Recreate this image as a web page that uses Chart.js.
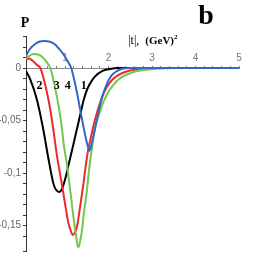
<!DOCTYPE html>
<html>
<head>
<meta charset="utf-8">
<script src="https://cdn.jsdelivr.net/npm/chart.js@4.4.1/dist/chart.umd.min.js"></script>
<style>
  html, body { margin: 0; padding: 0; background: #fff; }
</style>
</head>
<body>
<canvas id="chart" width="267" height="278"></canvas>
<script>
// |t| in (GeV)^2 and P for the four curves
const tBlack = [0.10, 0.20, 0.35, 0.50, 0.61, 0.73, 0.79, 0.87, 0.93, 1.00, 1.08, 1.16, 1.25, 1.34, 1.43, 1.51, 1.60, 1.69, 1.85, 2.03, 2.22, 2.5, 5];
const pBlack = [-0.003, -0.011, -0.030, -0.059, -0.085, -0.110, -0.116, -0.118, -0.115, -0.106, -0.092, -0.078, -0.062, -0.046, -0.030, -0.020, -0.013, -0.008, -0.003, -0.001, 0, 0, 0];

const tBlue = [0.10, 0.19, 0.31, 0.42, 0.51, 0.65, 0.77, 0.85, 0.95, 1.04, 1.14, 1.20, 1.27, 1.34, 1.41, 1.48, 1.53, 1.56, 1.60, 1.65, 1.69, 1.76, 1.84, 1.96, 2.07, 2.19, 2.31, 2.49, 5];
const pBlue = [0.0117, 0.0181, 0.0229, 0.0252, 0.0257, 0.0250, 0.0224, 0.0188, 0.0138, 0.0076, 0, -0.0095, -0.0229, -0.0381, -0.0533, -0.0676, -0.0757, -0.0788, -0.0743, -0.0648, -0.0571, -0.0438, -0.0295, -0.0152, -0.0071, -0.0029, -0.0008, 0, 0];

const tRed = [0.10, 0.16, 0.26, 0.35, 0.43, 0.49, 0.58, 0.66, 0.73, 0.81, 0.92, 1.00, 1.07, 1.14, 1.17, 1.22, 1.26, 1.30, 1.35, 1.42, 1.47, 1.53, 1.60, 1.65, 1.71, 1.78, 1.87, 1.96, 2.08, 2.22, 2.45, 2.68, 2.91, 5];
const pRed = [0.0076, 0.0090, 0.0067, 0.0029, 0, -0.0076, -0.0229, -0.0400, -0.0590, -0.0829, -0.1095, -0.1295, -0.1467, -0.1562, -0.1590, -0.1571, -0.1533, -0.1448, -0.1305, -0.1105, -0.0943, -0.0781, -0.0648, -0.0552, -0.0457, -0.0362, -0.0257, -0.0181, -0.0114, -0.0067, -0.0029, -0.0012, 0, 0];

const tGreen = [0.10, 0.19, 0.28, 0.38, 0.51, 0.58, 0.66, 0.72, 0.78, 0.85, 0.92, 0.97, 1.04, 1.09, 1.15, 1.20, 1.25, 1.27, 1.30, 1.32, 1.35, 1.39, 1.43, 1.50, 1.55, 1.61, 1.69, 1.76, 1.83, 1.89, 1.96, 2.03, 2.11, 2.19, 2.26, 2.35, 2.45, 2.63, 2.91, 3.18, 3.53, 5];
const pGreen = [0.0092, 0.0119, 0.0133, 0.0129, 0.0092, 0.0052, 0, -0.0095, -0.0210, -0.0362, -0.0552, -0.0733, -0.0914, -0.1076, -0.1276, -0.1448, -0.1590, -0.1657, -0.1705, -0.1695, -0.1638, -0.1543, -0.1390, -0.1171, -0.0971, -0.0781, -0.0571, -0.0467, -0.0381, -0.0314, -0.0257, -0.0205, -0.0162, -0.0124, -0.0100, -0.0076, -0.0057, -0.0031, -0.0014, -0.0005, 0, 0];

const curveNames = ['2', '3', '4', '1'];
const nameT = [0.41, 0.81, 1.06, 1.43];
const nameP = -0.0167;

function pts(ts, ps) {
  return ts.map((t, i) => ({ x: t, y: ps[i] }));
}

function line(ts, ps, color) {
  return {
    data: pts(ts, ps),
    borderColor: color,
    borderWidth: 2,
    pointRadius: 0,
    fill: false,
    cubicInterpolationMode: 'monotone'
  };
}

const textPlugin = {
  id: 'texts',
  afterDraw(chart) {
    const ctx = chart.ctx;
    const x = chart.scales.x, y = chart.scales.y;
    const area = chart.chartArea;
    ctx.save();
    ctx.fillStyle = '#000';
    ctx.textBaseline = 'middle';
    ctx.textAlign = 'center';
    ctx.font = 'bold 12px "Liberation Serif"';
    curveNames.forEach((n, i) => {
      ctx.fillText(n, x.getPixelForValue(nameT[i]), y.getPixelForValue(nameP));
    });
    ctx.font = 'bold 14px "Liberation Serif"';
    ctx.fillText('P', area.left - 1, area.top - 13);
    ctx.font = 'bold 28px "Liberation Serif"';
    ctx.textAlign = 'left';
    ctx.textBaseline = 'alphabetic';
    ctx.fillText('b', x.getPixelForValue(4.06), area.top - 13);
    // axis title
    let tx = x.getPixelForValue(2.45);
    const ty = y.getPixelForValue(0.023);
    ctx.font = '12px "Liberation Serif"';
    ctx.fillText('|t|,', tx, ty);
    tx += ctx.measureText('|t|,  ').width;
    ctx.font = 'bold 11px "Liberation Serif"';
    ctx.fillText('(GeV)', tx, ty);
    tx += ctx.measureText('(GeV)').width;
    ctx.font = 'bold 7px "Liberation Serif"';
    ctx.fillText('2', tx, ty - 5);
    ctx.restore();
  }
};

new Chart(document.getElementById('chart'), {
  type: 'line',
  data: {
    datasets: [
      line(tBlue, pBlue, '#3465c8'),
      line(tGreen, pGreen, '#74c74a'),
      line(tRed, pRed, '#ee2a2a'),
      line(tBlack, pBlack, '#000000')
    ]
  },
  options: {
    responsive: false,
    devicePixelRatio: 1,
    animation: false,
    layout: { padding: { left: 0, top: 36.5, right: 28, bottom: 26.25 } },
    plugins: { legend: { display: false }, tooltip: { enabled: false } },
    scales: {
      x: {
        type: 'linear',
        min: 0.1,
        max: 5,
        position: { y: 0 },
        ticks: {
          stepSize: 0.2,
          autoSkip: false,
          maxRotation: 0,
          mirror: true,
          padding: -1,
          color: '#777',
          font: { size: 10, family: 'Liberation Sans' },
          callback: v => (v >= 1 && Math.abs(v - Math.round(v)) < 1e-6) ? String(Math.round(v)) : ''
        },
        grid: { drawOnChartArea: false, tickLength: -3, color: '#777' },
        border: { color: '#888' }
      },
      y: {
        min: -0.175,
        max: 0.03,
        afterFit: s => { s.width = 26; },
        ticks: {
          stepSize: 0.01,
          autoSkip: false,
          padding: 2,
          color: '#666',
          font: { size: 10, family: 'Liberation Sans' },
          callback: v => (Math.abs(v * 20 - Math.round(v * 20)) < 1e-6) ? String(Math.round(v * 100) / 100).replace('.', ',') : ''
        },
        grid: { drawOnChartArea: false, tickLength: 3, color: '#333' },
        border: { color: '#333' }
      }
    }
  },
  plugins: [textPlugin]
});
</script>
</body>
</html>
